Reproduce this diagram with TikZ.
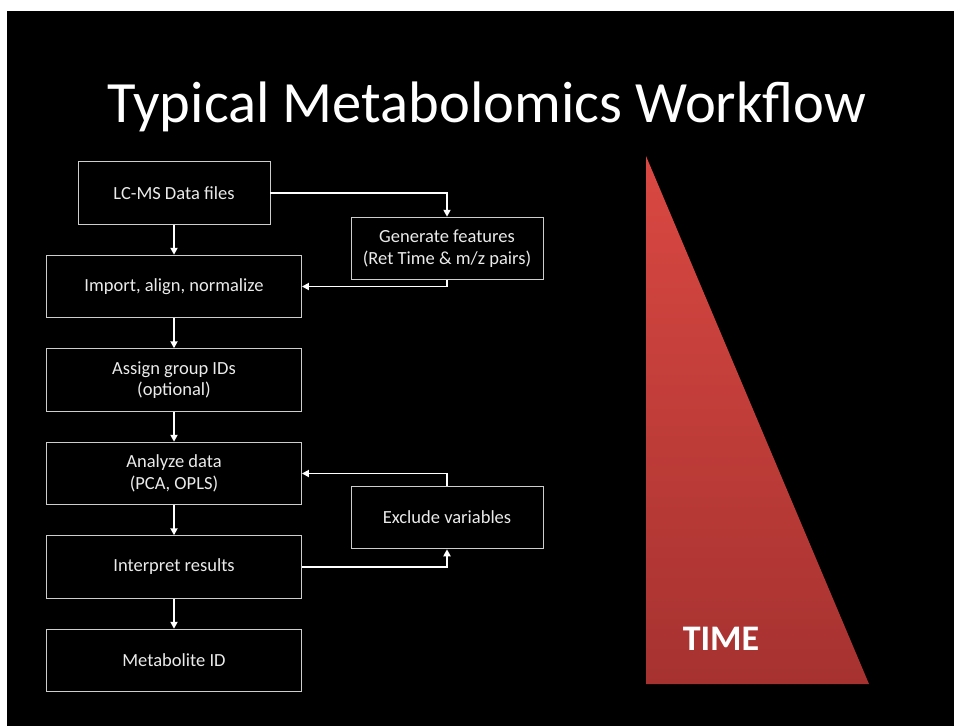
\documentclass[tikz,border=0pt]{standalone}
\usepackage{fontspec}
\setmainfont{Carlito}
\usetikzlibrary{positioning,arrows.meta}

\definecolor{boxgray}{RGB}{205,205,205}
\definecolor{textgray}{RGB}{235,235,235}
\definecolor{tritop}{RGB}{218,72,66}
\definecolor{tribot}{RGB}{166,50,48}

\begin{document}
\begin{tikzpicture}[x=1pt,y=1pt,
    stepbox/.style={draw=boxgray,line width=0.9pt,minimum height=62.6pt,inner sep=0pt,
                    text=textgray,align=center,font=\fontsize{18.5}{21.5}\selectfont},
    wide/.style={stepbox,minimum width=255pt},
    narrow/.style={stepbox,minimum width=192pt},
    flow/.style={white,line width=1.8pt,-{Triangle[length=7pt,width=7pt]}}]
  % page and slide
  \fill[white] (0,0) rectangle (954,-726);
  \useasboundingbox (0,0) rectangle (954,-726);
  \fill[black] (7,-11) rectangle (954,-726);

  \node[anchor=base,text=white,font=\fontsize{58.5}{62}\selectfont] (title) at (487,-122)
    {Typical Metabolomics Workflow};

  % main column
  \node[narrow] (lcms)      at (174,-193)             {LC-MS Data files};
  \node[wide]   (import)    [below=30pt of lcms]      {Import, align, normalize};
  \node[wide]   (assign)    [below=30pt of import]    {Assign group IDs\\(optional)};
  \node[wide]   (analyze)   [below=30pt of assign]    {Analyze data\\(PCA, OPLS)};
  \node[wide]   (interpret) [below=30pt of analyze]   {Interpret results};
  \node[wide]   (metid)     [below=30pt of interpret] {Metabolite ID};

  % side boxes
  \node[narrow] (genfeat) at (447,-248.5) {Generate features\\(Ret Time \& m/z pairs)};
  \node[narrow] (exclude) at (447,-517.5) {Exclude variables};

  \draw[flow] (lcms) -- (import);
  \draw[flow] (import) -- (assign);
  \draw[flow] (assign) -- (analyze);
  \draw[flow] (analyze) -- (interpret);
  \draw[flow] (interpret) -- (metid);
  \draw[flow] (lcms.east) -| (genfeat.north);
  \draw[flow] (genfeat.south) |- (import.east);
  \draw[flow] (interpret.east) -| (exclude.south);
  \draw[flow] (exclude.north) |- (analyze.east);

  % time wedge
  \shade[top color=tritop,bottom color=tribot] (646,-156) -- (646,-684) -- (869,-684) -- cycle;
  \node[anchor=base,text=white,font=\fontsize{36}{40}\selectfont\bfseries] (time) at (721,-650) {TIME};
\end{tikzpicture}
\end{document}
